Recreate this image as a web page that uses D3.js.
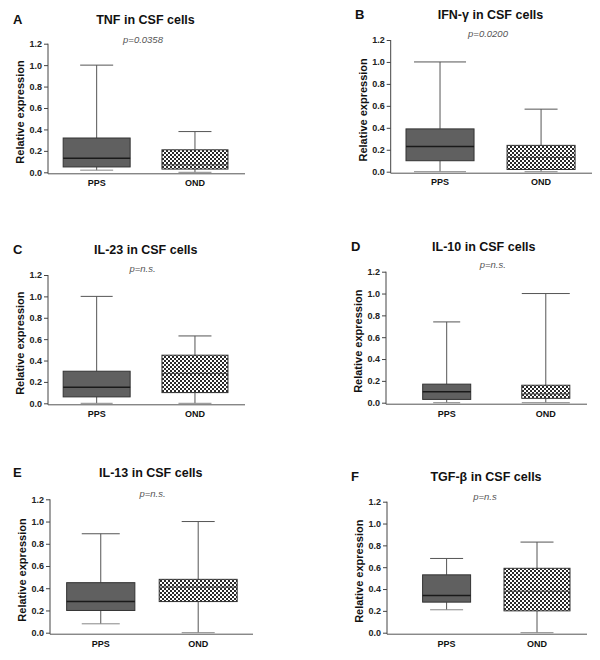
<!DOCTYPE html>
<html><head><meta charset="utf-8">
<script src="https://cdn.jsdelivr.net/npm/d3@7"></script>
<style>
html,body{margin:0;padding:0;background:#fff;}
svg{display:block;font-family:"Liberation Sans",Arial,sans-serif;}
</style></head>
<body><svg id="chart" width="600" height="660"></svg>
<script>
// ---- data ----
const categories = ["PPS", "OND"];
const panelLetters = ["A", "B", "C", "D", "E", "F"];
const panelTitles = ["TNF in CSF cells", "IFN-γ in CSF cells", "IL-23 in CSF cells",
                     "IL-10 in CSF cells", "IL-13 in CSF cells", "TGF-β in CSF cells"];
const pValues = ["p=0.0358", "p=0.0200", "p=n.s.", "p=n.s.", "p=n.s.", "p=n.s"];
const yTickValues = [0, 0.2, 0.4, 0.6, 0.8, 1.0, 1.2];
const yAxisLabel = "Relative expression";
// [min, q1, median, q3, max]
const ppsStats = [
  [0.02, 0.05, 0.13, 0.32, 1.00],
  [0.00, 0.10, 0.23, 0.39, 1.00],
  [0.00, 0.06, 0.15, 0.30, 1.00],
  [0.00, 0.03, 0.10, 0.17, 0.74],
  [0.08, 0.20, 0.28, 0.45, 0.89],
  [0.21, 0.28, 0.34, 0.53, 0.68]
];
const ondStats = [
  [0.00, 0.03, 0.07, 0.21, 0.38],
  [0.00, 0.02, 0.13, 0.24, 0.57],
  [0.00, 0.10, 0.28, 0.45, 0.63],
  [0.00, 0.04, 0.08, 0.16, 1.00],
  [0.00, 0.28, 0.41, 0.48, 1.00],
  [0.00, 0.20, 0.38, 0.59, 0.83]
];

// ---- layout (positions only) ----
const layouts = [
  {lx:13, tx:145.5, ty:24, px:143, py:42.7, ax:48, yt:43.7, yb:172.3, xe:245, cy:186, c:[.247,.746], w:[.34,.335], cap:[33,33]},
  {lx:355, tx:490.5, ty:18.5, px:488, py:37.3, ax:390.7, yt:40, yb:171.7, xe:592, cy:185, c:[.245,.747], w:[.338,.338], cap:[52,33]},
  {lx:13, tx:145.8, ty:254.3, px:142.5, py:272.3, ax:48, yt:275, yb:403.3, xe:245, cy:416.7, c:[.247,.746], w:[.34,.335], cap:[32,33]},
  {lx:351, tx:483.8, ty:250.7, px:492.8, py:267.7, ax:386, yt:271.7, yb:402.7, xe:587, cy:416.7, c:[.302,.795], w:[.239,.239], cap:[27,48]},
  {lx:13, tx:150.8, ty:476.7, px:152.5, py:496.7, ax:50, yt:499.3, yb:632.7, xe:253, cy:646.7, c:[.25,.73], w:[.336,.384], cap:[38,33]},
  {lx:351, tx:486, ty:480.7, px:485, py:500, ax:387, yt:501.7, yb:632.7, xe:587, cy:646.7, c:[.298,.75], w:[.24,.33], cap:[33,33]}
];

const svg = d3.select("#chart");
const defs = svg.append("defs");
const pat = defs.append("pattern").attr("id", "checker")
  .attr("patternUnits", "userSpaceOnUse").attr("width", 4).attr("height", 4);
pat.append("rect").attr("width", 4).attr("height", 4).attr("fill", "#fff");
pat.append("rect").attr("width", 2).attr("height", 2).attr("fill", "#2a2a2a");
pat.append("rect").attr("x", 2).attr("y", 2).attr("width", 2).attr("height", 2).attr("fill", "#2a2a2a");

const fills = ["#606060", "url(#checker)"];

panelLetters.forEach((letter, i) => {
  const L = layouts[i];
  const g = svg.append("g");
  const W = L.xe - L.ax;
  const y = d3.scaleLinear().domain([0, 1.2]).range([L.yb, L.yt]);
  const x = d3.scaleOrdinal().domain(categories).range(L.c.map(f => L.ax + f * W));

  // letter, title, p value
  g.append("text").attr("x", L.lx).attr("y", L.ty).text(letter)
    .attr("font-size", 13).attr("font-weight", "bold").attr("fill", "#111");
  g.append("text").attr("x", L.tx).attr("y", L.ty).attr("text-anchor", "middle")
    .text(panelTitles[i]).attr("font-size", 12.5).attr("font-weight", "bold").attr("fill", "#111");
  g.append("text").attr("x", L.px).attr("y", L.py).attr("text-anchor", "middle")
    .text(pValues[i]).attr("font-size", 9.5).attr("font-style", "italic").attr("fill", "#555");

  // y axis
  const yAxis = d3.axisLeft(y).tickValues(yTickValues).tickFormat(d3.format(".1f"))
    .tickSize(4).tickPadding(2);
  const ya = g.append("g").attr("transform", `translate(${L.ax},0)`).call(yAxis);
  ya.select(".domain").remove();
  ya.selectAll("line").attr("stroke", "#444");
  ya.selectAll("text").attr("font-size", 9).attr("font-weight", "bold").attr("fill", "#222")
    .attr("font-family", "Liberation Sans, Arial, sans-serif");
  g.append("line").attr("x1", L.ax).attr("x2", L.ax).attr("y1", y(1.2)).attr("y2", L.yb + 1.5)
    .attr("stroke", "#444").attr("stroke-width", 1);
  // x axis line
  g.append("line").attr("x1", L.ax).attr("x2", L.xe).attr("y1", L.yb + 1.5).attr("y2", L.yb + 1.5)
    .attr("stroke", "#555").attr("stroke-width", 1);

  // y label
  g.append("text")
    .attr("transform", `translate(${L.ax - 28},${(y(1.2) + y(0)) / 2 + 4}) rotate(-90)`)
    .attr("text-anchor", "middle").attr("dominant-baseline", "central")
    .text(yAxisLabel).attr("font-size", 11).attr("font-weight", "bold").attr("fill", "#111");

  // category labels
  categories.forEach(cat => {
    g.append("text").attr("x", x(cat)).attr("y", L.cy).attr("text-anchor", "middle")
      .text(cat).attr("font-size", 9).attr("font-weight", "bold").attr("fill", "#111");
  });

  // boxes
  const statsList = [ppsStats[i], ondStats[i]];
  categories.forEach((cat, k) => {
    const [mn, q1, md, q3, mx] = statsList[k];
    const cx = x(cat);
    const bw = L.w[k] * W;
    const cw = L.cap[k];
    const wg = g.append("g").attr("stroke", "#555").attr("stroke-width", 1);
    wg.append("line").attr("x1", cx).attr("x2", cx).attr("y1", y(q3)).attr("y2", y(mx));
    wg.append("line").attr("x1", cx).attr("x2", cx).attr("y1", y(q1)).attr("y2", y(mn));
    wg.append("line").attr("x1", cx - cw / 2).attr("x2", cx + cw / 2).attr("y1", y(mx)).attr("y2", y(mx));
    wg.append("line").attr("x1", cx - cw / 2).attr("x2", cx + cw / 2).attr("y1", y(mn)).attr("y2", y(mn))
      .attr("stroke", "#888");
    g.append("rect").attr("x", cx - bw / 2).attr("y", y(q3)).attr("width", bw)
      .attr("height", y(q1) - y(q3)).attr("fill", fills[k]).attr("stroke", "#333").attr("stroke-width", 1);
    g.append("line").attr("x1", cx - bw / 2).attr("x2", cx + bw / 2).attr("y1", y(md)).attr("y2", y(md))
      .attr("stroke", k === 0 ? "#1a1a1a" : "#444").attr("stroke-width", k === 0 ? 1.5 : 1);
  });
});
</script></body></html>
